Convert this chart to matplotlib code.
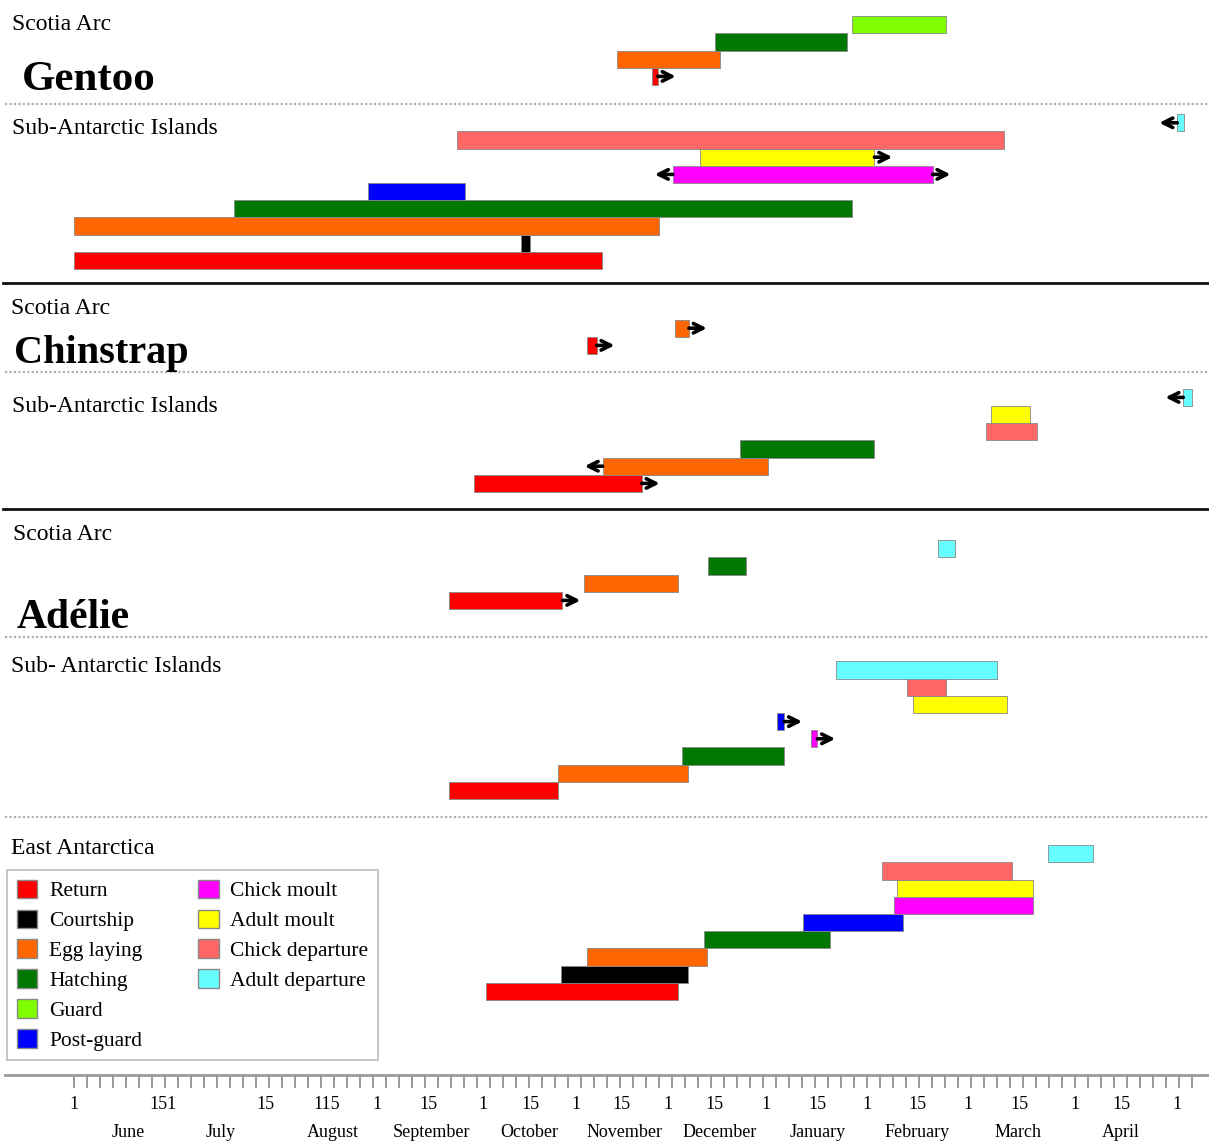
import numpy as np
import matplotlib.pyplot as plt
from matplotlib.patches import Patch

plt.rcParams['font.family'] = ['Liberation Serif', 'DejaVu Serif']

W, H = 1209, 1142

phases = ["Return", "Courtship", "Egg laying", "Hatching", "Guard", "Post-guard",
          "Chick moult", "Adult moult", "Chick departure", "Adult departure"]
phase_colors = ["#ff0000", "#000000", "#ff6600", "#007700", "#80ff00", "#0000ff",
                "#ff00ff", "#ffff00", "#ff6666", "#66ffff"]
color_of = dict(zip(phases, phase_colors))

# time in months after 1 June (0 = 1 June ... 11 = 1 May), rows listed bottom -> top
# arrow: "r" continues later, "l" starts earlier, "b" both ways
gentoo_sa_phase = ["Return", "Egg laying", "Hatching", "Guard"]
gentoo_sa_start = [5.76, 5.41, 6.39, 7.76]
gentoo_sa_end = [5.82, 6.44, 7.71, 8.69]
gentoo_sa_arrow = ["r", "", "", ""]

gentoo_sub_phase = ["Return", "Courtship", "Egg laying", "Hatching", "Post-guard",
                    "Chick moult", "Adult moult", "Chick departure", "Adult departure"]
gentoo_sub_start = [0.00, 4.46, 0.00, 1.60, 2.93, 5.97, 6.24, 3.82, 11.00]
gentoo_sub_end = [5.26, 4.55, 5.83, 7.76, 3.90, 8.56, 7.98, 9.27, 11.07]
gentoo_sub_arrow = ["", "", "", "", "", "b", "r", "", "l"]

chin_sa_phase = ["Return", "Egg laying"]
chin_sa_start = [5.11, 5.99]
chin_sa_end = [5.21, 6.13]
chin_sa_arrow = ["r", "r"]

chin_sub_phase = ["Return", "Egg laying", "Hatching", "Chick departure",
                  "Adult moult", "Adult departure"]
chin_sub_start = [3.99, 5.27, 6.64, 9.09, 9.14, 11.06]
chin_sub_end = [5.66, 6.92, 7.98, 9.60, 9.53, 11.15]
chin_sub_arrow = ["r", "l", "", "", "", "l"]

adelie_sa_phase = ["Return", "Egg laying", "Hatching", "Adult departure"]
adelie_sa_start = [3.74, 5.08, 6.32, 8.61]
adelie_sa_end = [4.87, 6.02, 6.70, 8.78]
adelie_sa_arrow = ["r", "", "", ""]

adelie_sub_phase = ["Return", "Egg laying", "Hatching", "Chick moult", "Post-guard",
                    "Adult moult", "Chick departure", "Adult departure"]
adelie_sub_start = [3.74, 4.83, 6.06, 7.35, 7.01, 8.36, 8.31, 7.60]
adelie_sub_end = [4.83, 6.12, 7.08, 7.41, 7.08, 9.30, 8.69, 9.20]
adelie_sub_arrow = ["", "", "", "r", "r", "", "", ""]

east_phase = ["Return", "Courtship", "Egg laying", "Hatching", "Post-guard",
              "Chick moult", "Adult moult", "Chick departure", "Adult departure"]
east_start = [4.11, 4.86, 5.11, 6.28, 7.27, 8.18, 8.21, 8.06, 9.71]
east_end = [6.02, 6.12, 6.31, 7.54, 8.27, 9.56, 9.56, 9.35, 10.16]
east_arrow = [""] * 9

# bottom time axis
num_pos = [0, 0.89, 1.91, 2.52, 3.02, 3.53, 4.08, 4.55, 5.0, 5.46, 5.92, 6.39,
           6.9, 7.41, 7.91, 8.41, 8.91, 9.43, 9.98, 10.44, 11.0]
num_lab = ["1", "151", "15", "115", "1", "15", "1", "15", "1", "15", "1", "15",
           "1", "15", "1", "15", "1", "15", "1", "15", "1"]
month_pos = [0.54, 1.46, 2.58, 3.56, 4.54, 5.49, 6.44, 7.41, 8.41, 9.41, 10.44]
month_lab = ["June", "July", "August", "September", "October", "November",
             "December", "January", "February", "March", "April"]

PXM = 100.3   # pixels per month
X0 = 74       # pixel of 1 June
ROW = 17.2    # row height in pixels


def fx(px):
    return px / W


def fy(py):
    return 1 - py / H


fig = plt.figure(figsize=(W / 100, H / 100), dpi=100)
ax = fig.add_axes([0, fy(1075), 1, 1075 / H])
ax.set_xlim(-X0 / PXM, (W - X0) / PXM)
ax.set_ylim(1075, 0)

panels = [
    (gentoo_sa_phase, gentoo_sa_start, gentoo_sa_end, gentoo_sa_arrow, 85),
    (gentoo_sub_phase, gentoo_sub_start, gentoo_sub_end, gentoo_sub_arrow, 269),
    (chin_sa_phase, chin_sa_start, chin_sa_end, chin_sa_arrow, 354),
    (chin_sub_phase, chin_sub_start, chin_sub_end, chin_sub_arrow, 492),
    (adelie_sa_phase, adelie_sa_start, adelie_sa_end, adelie_sa_arrow, 609),
    (adelie_sub_phase, adelie_sub_start, adelie_sub_end, adelie_sub_arrow, 799),
    (east_phase, east_start, east_end, east_arrow, 1000),
]

alen = 18 / PXM


def arrow(x0, x1, y):
    ax.annotate("", xy=(x1, y), xytext=(x0, y),
                arrowprops=dict(arrowstyle="->", lw=2.6, color="black",
                                shrinkA=0, shrinkB=0, mutation_scale=17))


for ph, st, en, ar, base in panels:
    ys = base - (np.arange(len(ph)) + 0.5) * ROW
    ax.barh(ys, np.array(en) - np.array(st), left=st, height=ROW,
            color=[color_of[p] for p in ph], edgecolor="#888888", linewidth=0.6)
    for y, s, e, a in zip(ys, st, en, ar):
        if a in ("r", "b"):
            arrow(e, e + alen, y)
        if a in ("l", "b"):
            arrow(s, s - alen, y)

# separators
for y in [104, 372, 637, 817]:
    ax.axhline(y, xmin=fx(5), xmax=1, color="#b0b0b0", lw=1.6, ls=(0, (1, 1)))
for y in [283, 509]:
    ax.axhline(y, xmin=fx(3), xmax=1, color="#111111", lw=2.0)

# region / species labels
small = 17
labels = [
    (12, 24, "Scotia Arc", small, "normal"),
    (22, 80, "Gentoo", 31, "bold"),
    (12, 128, "Sub-Antarctic Islands", small, "normal"),
    (11, 308, "Scotia Arc", small, "normal"),
    (14, 354, "Chinstrap", 29, "bold"),
    (12, 406, "Sub-Antarctic Islands", small, "normal"),
    (13, 534, "Scotia Arc", small, "normal"),
    (17, 618, "Adélie", 30, "bold"),
    (11, 666, "Sub- Antarctic Islands", small, "normal"),
    (11, 848, "East Antarctica", small, "normal"),
]
for px, py, t, s, w in labels:
    fig.text(fx(px), fy(py), t, fontsize=s, fontweight=w, ha="left", va="center")

# axis styling
for side in ["top", "left", "right"]:
    ax.spines[side].set_visible(False)
ax.spines["bottom"].set_color("#999999")
ax.spines["bottom"].set_linewidth(2)
ax.spines["bottom"].set_bounds(-69 / PXM, (W - X0) / PXM)
ax.set_yticks([])
ax.xaxis.remove_overlapping_locs = False
ax.set_xticks(np.arange(87) * 13 / PXM, minor=True)
ax.tick_params(axis="x", which="minor", length=9.5, width=1.2, color="#888888", direction="out")
ax.set_xticks(num_pos)
ax.set_xticklabels(num_lab, fontsize=13)
ax.tick_params(axis="x", which="major", length=0, pad=15)

sec = ax.secondary_xaxis("bottom")
sec.set_xticks(month_pos)
sec.set_xticklabels(month_lab, fontsize=13)
sec.tick_params(length=0, pad=35)
sec.spines["bottom"].set_visible(False)

# legend
handles = [Patch(facecolor=c, edgecolor="#888888", label=p) for p, c in zip(phases, phase_colors)]
handles = handles + [Patch(facecolor="none", edgecolor="none", label="")] * 2
leg = fig.legend(handles=handles, loc="upper left", bbox_to_anchor=(fx(7), fy(870)),
                 ncol=2, fontsize=15.5, frameon=True, fancybox=False, edgecolor="#aaaaaa",
                 handlelength=0.95, handleheight=0.95, handletextpad=0.55,
                 labelspacing=0.38, columnspacing=2.6, borderpad=0.45, borderaxespad=0)
leg.get_frame().set_linewidth(1.2)

fig.savefig("out.png", dpi=100)
